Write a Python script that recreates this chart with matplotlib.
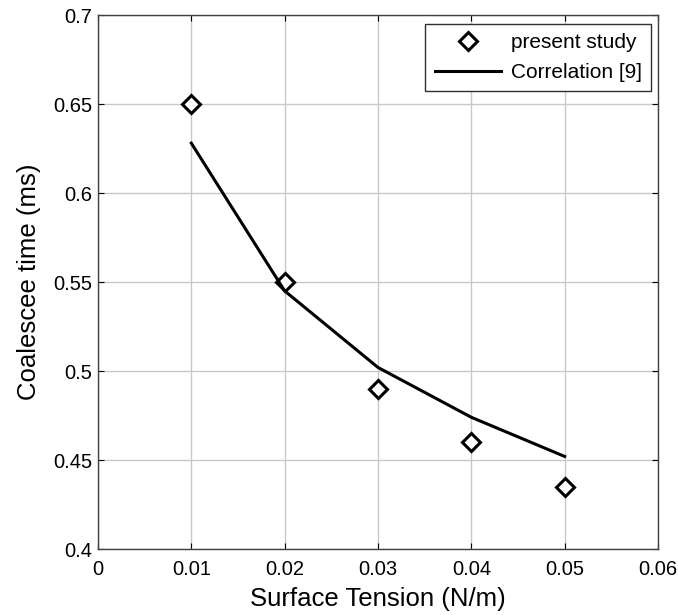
import numpy as np
import matplotlib.pyplot as plt

plt.rcParams['font.family'] = ['Liberation Sans', 'DejaVu Sans']

# data
tension = [0.01, 0.02, 0.03, 0.04, 0.05]
present_study = [0.650, 0.550, 0.490, 0.460, 0.435]
correlation = [0.628, 0.545, 0.502, 0.474, 0.452]

fig = plt.figure(figsize=(6.78, 6.15), dpi=100)
ax = fig.add_axes([0.1445, 0.1073, 0.826, 0.8683])

ax.plot(tension, present_study, linestyle='none', marker='D', markersize=9,
        markerfacecolor='white', markeredgecolor='black', markeredgewidth=2.2,
        label='present study')
ax.plot(tension, correlation, color='black', linewidth=2.2, label='Correlation [9]')

ax.set_xlim(0, 0.06)
ax.set_ylim(0.4, 0.7)
ax.set_xticks(np.arange(0, 0.061, 0.01))
ax.set_xticklabels(['0', '0.01', '0.02', '0.03', '0.04', '0.05', '0.06'])
ax.set_yticks(np.arange(0.4, 0.701, 0.05))
ax.set_yticklabels(['0.4', '0.45', '0.5', '0.55', '0.6', '0.65', '0.7'])
ax.tick_params(direction='in', length=4, labelsize=14.5, top=True, right=True)
ax.tick_params(axis='x', pad=8)
ax.tick_params(axis='y', pad=4)
ax.grid(True, color='#c8c8c8', linewidth=1)
for s in ax.spines.values():
    s.set_color('#404040')
    s.set_linewidth(1)

ax.set_xlabel('Surface Tension (N/m)', fontsize=18.5, labelpad=6)
ax.set_ylabel('Coalescee time (ms)', fontsize=18.5, labelpad=9)

leg = ax.legend(loc='upper right', bbox_to_anchor=(0.9875, 0.983), borderaxespad=0,
                fontsize=15, fancybox=False, framealpha=1, edgecolor='#303030',
                handlelength=3.2, handletextpad=0.45, borderpad=0.45,
                labelspacing=0.5)
leg.get_frame().set_linewidth(1)

fig.savefig('out.png', dpi=100, facecolor='white')
